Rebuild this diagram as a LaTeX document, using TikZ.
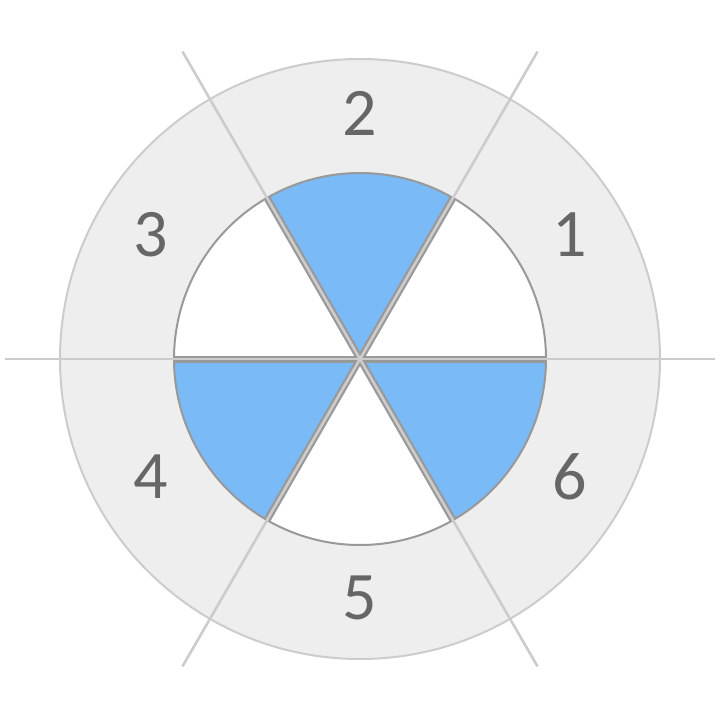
\documentclass[tikz,border=0pt]{standalone}
\usepackage{fontspec}
\setmainfont{Carlito}
\definecolor{ringfill}{HTML}{EEEEEE}
\definecolor{ringline}{HTML}{CCCCCC}
\definecolor{secline}{HTML}{999999}
\definecolor{secblue}{RGB}{122,186,246}
\definecolor{labelc}{HTML}{666666}
\begin{document}
\begin{tikzpicture}[x=1pt,y=1pt,
  sector/.style={draw=secline,line width=2pt,line join=round},
  numlabel/.style={text=labelc,font=\fontsize{68}{68}\selectfont,inner sep=0pt}]
\useasboundingbox (0,-720) rectangle (720,0);
\coordinate (c) at (360,-359);
\coordinate (lc) at (360,-355.5);
% outer ring
\fill[ringfill] (c) circle[radius=300];
\draw[ringline,line width=2pt] (c) circle[radius=300];
% inner sectors
\foreach \a/\col in {0/white,60/secblue,120/white,180/secblue,240/white,300/secblue}{
  \filldraw[sector,fill=\col] (c) -- ++(\a:186) arc[start angle=\a,end angle=\a+60,radius=186] -- cycle;
}
\foreach \a in {0,60,120,180,240,300}{
  \draw[secline,line width=7pt] (c) -- ++(\a:185);
}
\foreach \a in {0,60,120,180,240,300}{
  \draw[ringline,line width=2.6pt] (c) -- ++(\a:355);
}
% labels
\foreach \n/\a in {1/30,2/90,3/150,4/210,5/270,6/330}{
  \node[numlabel] (l\n) at ([shift={(\a:242)}]lc) {\n};
}
\end{tikzpicture}
\end{document}
